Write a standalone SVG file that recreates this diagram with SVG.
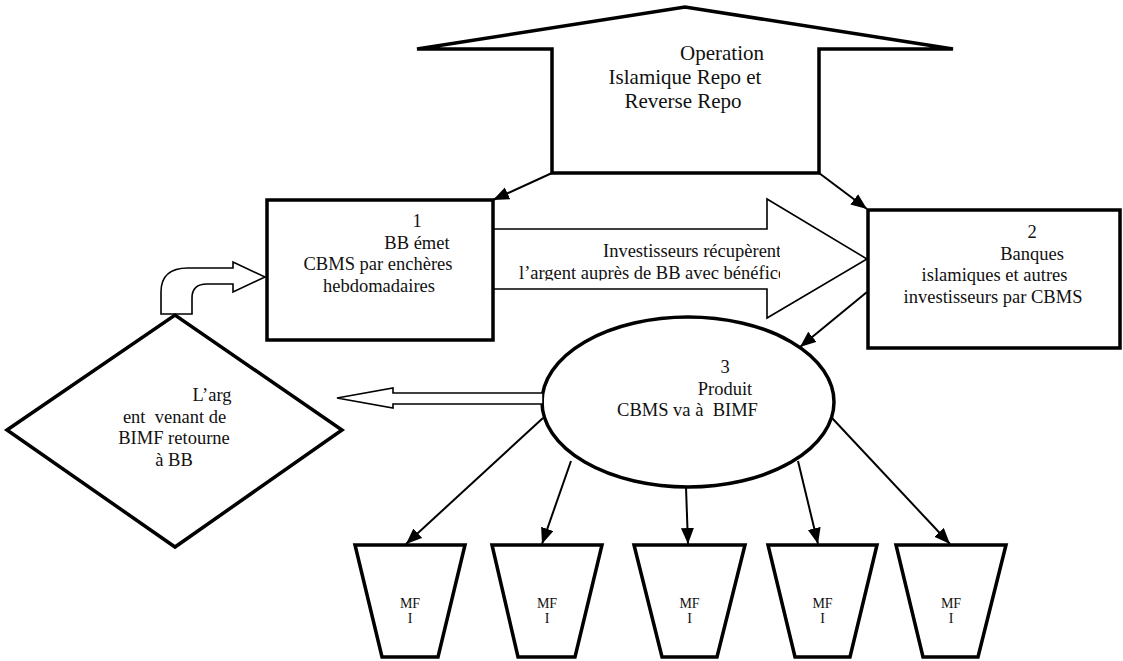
<svg xmlns="http://www.w3.org/2000/svg" width="1123" height="661" viewBox="0 0 1123 661" font-family="'Liberation Serif', 'DejaVu Serif', serif">
<style>
text{font-family:'Liberation Serif','DejaVu Serif',serif;fill:#111;}
.t{font-size:18.5px;}
.big{font-size:21px;}
.mf{font-size:14px;}
.node{fill:#fff;stroke:#000;stroke-width:3.5;stroke-linejoin:miter;}
.thin{fill:#fff;stroke:#000;stroke-width:1.6;}
.conn{fill:none;stroke:#000;stroke-width:2;}
</style>
<defs>
<marker id="ah" markerUnits="userSpaceOnUse" markerWidth="17" markerHeight="14" refX="16" refY="6.5" orient="auto">
<path d="M0,0 L16,6.5 L0,13 Z" fill="#000"/>
</marker>
<clipPath id="clipTxt"><rect x="480" y="230" width="300" height="50.5"/></clipPath>
</defs>

<g id="top-arrow">
<polygon class="node" stroke-width="4.5" points="417,49 685,7 953,49 819,49 819,173 552,173 552,49"/>
<text class="big" text-anchor="middle"><tspan x="722" y="60">Operation</tspan><tspan x="685" y="84">Islamique Repo et</tspan><tspan x="683" y="108">Reverse Repo</tspan></text>
</g>

<g id="flow-arrow">
<polygon class="thin" points="493,229 767,229 767,199 867,259 767,318 767,289 493,289"/>
<g clip-path="url(#clipTxt)">
<text class="t"><tspan x="603" y="257">Investisseurs récupèrent</tspan><tspan x="519" y="278.5">l’argent auprès de BB avec bénéfices</tspan></text>
</g>
</g>

<g id="bent-arrow">
<path class="thin" d="M161,314 L161,292 Q161,268 188,268 L233,268 L233,262 L265,277 L233,292 L233,284 L207,284 Q192,284 192,298 L192,314 Z"/>
</g>

<g id="box1">
<rect class="node" x="267" y="200" width="226" height="140"/>
<text class="t" text-anchor="middle"><tspan x="417" y="227">1</tspan><tspan x="417" y="248.5">BB émet</tspan><tspan x="378" y="270">CBMS par enchères</tspan><tspan x="379" y="291.5">hebdomadaires</tspan></text>
</g>

<g id="box2">
<rect class="node" x="868" y="210" width="252" height="138"/>
<text class="t" text-anchor="middle"><tspan x="1032" y="238">2</tspan><tspan x="1032" y="259.5">Banques</tspan><tspan x="994.5" y="281">islamiques et autres</tspan><tspan x="993" y="302.5">investisseurs par CBMS</tspan></text>
</g>

<g id="ellipse3">
<ellipse class="node" cx="688" cy="402" rx="146" ry="85"/>
<text class="t" text-anchor="middle"><tspan x="725" y="373">3</tspan><tspan x="725" y="394.5">Produit</tspan><tspan x="687.5" y="416" xml:space="preserve">CBMS va à  BIMF</tspan></text>
</g>

<g id="double-arrow">
<polygon class="thin" stroke-width="2.5" points="337,398 393,388 393,393 543,393 543,404 393,404 393,408"/>
</g>

<g id="diamond">
<polygon class="node" points="7,430 175,315 342,430 175,547"/>
<text class="t" text-anchor="middle"><tspan x="212" y="401">L’arg</tspan><tspan x="174.5" y="422.5" xml:space="preserve">ent  venant de</tspan><tspan x="174" y="444">BIMF retourne</tspan><tspan x="174" y="465.5">à BB</tspan></text>
</g>

<g id="mfi1">
<polygon class="node" stroke-width="4" points="355,545 465,545 438,657 382,657"/>
<text class="mf" text-anchor="middle"><tspan x="410" y="608">MF</tspan><tspan x="410" y="623">I</tspan></text>
</g>
<g id="mfi2">
<polygon class="node" stroke-width="4" points="492,545 602,545 575,657 518,657"/>
<text class="mf" text-anchor="middle"><tspan x="547" y="608">MF</tspan><tspan x="547" y="623">I</tspan></text>
</g>
<g id="mfi3">
<polygon class="node" stroke-width="4" points="634,545 745,545 717,657 662,657"/>
<text class="mf" text-anchor="middle"><tspan x="689.5" y="608">MF</tspan><tspan x="689.5" y="623">I</tspan></text>
</g>
<g id="mfi4">
<polygon class="node" stroke-width="4" points="768,545 877,545 850,657 795,657"/>
<text class="mf" text-anchor="middle"><tspan x="822.5" y="608">MF</tspan><tspan x="822.5" y="623">I</tspan></text>
</g>
<g id="mfi5">
<polygon class="node" stroke-width="4" points="896,545 1006,545 978,657 923,657"/>
<text class="mf" text-anchor="middle"><tspan x="951" y="608">MF</tspan><tspan x="951" y="623">I</tspan></text>
</g>

<g id="connectors">
<line class="conn" x1="552" y1="173" x2="493" y2="200" marker-end="url(#ah)"/>
<line class="conn" x1="819" y1="173" x2="867" y2="209" marker-end="url(#ah)"/>
<line class="conn" x1="867" y1="292" x2="800" y2="347" marker-end="url(#ah)"/>
<line class="conn" x1="543" y1="418" x2="406" y2="544" marker-end="url(#ah)"/>
<line class="conn" x1="571" y1="461" x2="542" y2="544" marker-end="url(#ah)"/>
<line class="conn" x1="686" y1="487" x2="688" y2="544" marker-end="url(#ah)"/>
<line class="conn" x1="798" y1="461" x2="818" y2="544" marker-end="url(#ah)"/>
<line class="conn" x1="832" y1="418" x2="950" y2="544" marker-end="url(#ah)"/>
</g>
</svg>
